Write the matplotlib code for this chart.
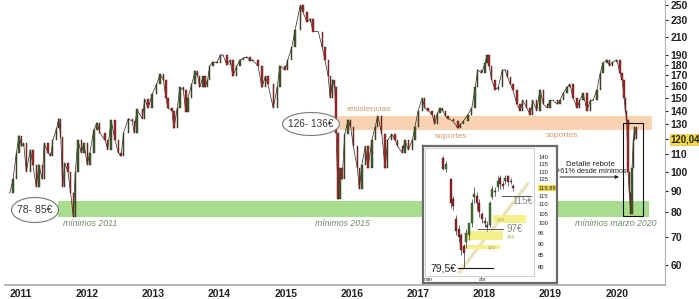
import numpy as np
import matplotlib
matplotlib.use('Agg')
import matplotlib.pyplot as plt
from matplotlib.patches import Ellipse, Rectangle
from matplotlib.ticker import NullLocator

plt.rcParams['font.family'] = ['Liberation Sans', 'DejaVu Sans']

# ---------------- main chart data (decimal year, close in EUR) ----------------
dates = [2010.83, 2010.88, 2010.93, 2010.97, 2011.01, 2011.04, 2011.08, 2011.14, 2011.18, 2011.23,
         2011.27, 2011.32, 2011.35, 2011.41, 2011.45, 2011.48, 2011.54, 2011.57, 2011.60, 2011.63,
         2011.66, 2011.71, 2011.75, 2011.79, 2011.82, 2011.86, 2011.91, 2011.95, 2012.00, 2012.04,
         2012.10, 2012.15, 2012.19, 2012.27, 2012.31, 2012.36, 2012.42, 2012.47, 2012.51, 2012.55,
         2012.62, 2012.68, 2012.71, 2012.75, 2012.83, 2012.87, 2012.92, 2012.98, 2013.05, 2013.10,
         2013.15, 2013.19, 2013.22, 2013.28, 2013.31, 2013.36, 2013.40, 2013.45, 2013.49, 2013.52,
         2013.58, 2013.63, 2013.67, 2013.70, 2013.75, 2013.78, 2013.82, 2013.85, 2013.90, 2013.96,
         2014.01, 2014.05, 2014.11, 2014.16, 2014.20, 2014.26, 2014.31, 2014.36, 2014.41, 2014.46,
         2014.50, 2014.58, 2014.64, 2014.69, 2014.73, 2014.81, 2014.87, 2014.91, 2014.99, 2015.03,
         2015.09, 2015.14, 2015.22, 2015.26, 2015.32, 2015.37, 2015.41, 2015.49, 2015.55, 2015.59,
         2015.64, 2015.67, 2015.71, 2015.74, 2015.76, 2015.79, 2015.82, 2015.85, 2015.89, 2015.94,
         2015.98, 2016.02, 2016.08, 2016.11, 2016.15, 2016.20, 2016.24, 2016.30, 2016.35, 2016.39,
         2016.45, 2016.50, 2016.54, 2016.60, 2016.65, 2016.69, 2016.76, 2016.80, 2016.85, 2016.91,
         2016.95, 2017.00, 2017.06, 2017.10, 2017.15, 2017.21, 2017.25, 2017.29, 2017.33, 2017.37,
         2017.41, 2017.45, 2017.53, 2017.60, 2017.64, 2017.68, 2017.75, 2017.81, 2017.86, 2017.90,
         2017.96, 2018.01, 2018.04, 2018.07, 2018.11, 2018.16, 2018.21, 2018.27, 2018.31, 2018.35,
         2018.39, 2018.43, 2018.49, 2018.54, 2018.58, 2018.64, 2018.69, 2018.73, 2018.79, 2018.84,
         2018.89, 2018.95, 2018.99, 2019.04, 2019.10, 2019.14, 2019.19, 2019.25, 2019.29, 2019.34,
         2019.40, 2019.44, 2019.49, 2019.55, 2019.60, 2019.64, 2019.70, 2019.75, 2019.79, 2019.85,
         2019.89, 2019.94, 2020.00, 2020.05, 2020.08, 2020.11, 2020.13, 2020.15, 2020.17, 2020.19,
         2020.21, 2020.23, 2020.25, 2020.27, 2020.30]
closes = [89, 96, 111, 122, 115, 117, 100, 113, 104, 92,
          104, 96, 117, 111, 109, 119, 127, 134, 121, 92,
          105, 100, 89, 78, 100, 119, 111, 117, 104, 111,
          126, 131, 124, 119, 113, 133, 119, 111, 109, 124,
          134, 132, 124, 141, 134, 149, 142, 153, 162, 171,
          166, 150, 142, 140, 127, 142, 159, 157, 139, 150,
          162, 174, 169, 159, 169, 159, 166, 179, 183, 182,
          190, 190, 180, 185, 169, 179, 185, 187, 188, 184,
          185, 179, 159, 169, 162, 142, 159, 179, 175, 185,
          198, 218, 250, 240, 228, 232, 216, 216, 198, 185,
          169, 150, 166, 159, 124, 86, 102, 96, 123, 133,
          128, 115, 102, 91, 104, 115, 102, 119, 128, 136,
          123, 102, 119, 123, 119, 115, 111, 119, 113, 119,
          128, 140, 150, 142, 140, 137, 130, 138, 142, 140,
          136, 134, 132, 127, 130, 132, 137, 142, 159, 175,
          172, 182, 190, 179, 166, 157, 159, 175, 175, 168,
          162, 157, 145, 140, 148, 142, 137, 148, 140, 157,
          145, 142, 148, 148, 145, 148, 154, 159, 162, 150,
          142, 148, 154, 140, 148, 148, 157, 172, 182, 185,
          179, 183, 185, 172, 166, 150, 140, 133, 100, 89,
          79.5, 102, 119, 128, 120.04]

year_ticks = [2011, 2012, 2013, 2014, 2015, 2016, 2017, 2018, 2019, 2020]
year_labels = [str(y) for y in year_ticks]
price_ticks = [60, 70, 80, 90, 100, 110, 120.04, 130, 140, 150, 160, 170, 180, 190, 210, 230, 250]
price_labels = ['60', '70', '80', '90', '100', '110', '120,04', '130', '140', '150', '160',
                '170', '180', '190', '210', '230', '250']
last_price_label = '120,04'

support_band = (78, 85)        # mínimos 2011 / 2015 / marzo 2020
resistance_band = (126, 136)   # resistencias / soportes

# ---------------- inset data (daily candles, March-April 2020) ----------------
inset_day   = [0, 1, 3, 4, 5, 6, 7, 8, 9, 10, 11, 12, 13, 14, 15, 16, 17, 18, 19, 20, 21, 22, 23, 24, 25, 26, 27]
inset_open  = [139, 132, 125, 113, 102, 97, 94, 89, 91, 94, 100, 114, 115, 111, 105, 101, 99, 99, 114, 118, 120, 126, 122, 124, 127, 123, 121]
inset_high  = [141, 137, 126, 115, 104, 99, 95, 90, 97, 100, 113, 120, 117, 113, 106, 103, 101, 112, 121, 120, 127, 128, 124, 128, 128, 126, 122]
inset_low   = [131, 130, 108, 107, 94, 91, 85, 79.5, 88, 92, 98, 111, 107, 103, 100, 98, 96, 98, 113, 115, 118, 119, 119, 122, 121, 122, 118]
inset_close = [132, 135, 111, 109, 96, 93, 87, 86, 95, 100, 111, 116, 111, 106, 102, 100, 98, 111, 119, 117, 124, 122, 121, 126, 123, 124, 119.88]
inset_ticks = [80, 85, 90, 95, 100, 105, 110, 115, 119.88, 125, 130, 135, 140]
inset_labels = ['80', '85', '90', '95', '100', '105', '110', '115', '119,88', '125', '130', '135', '140']
inset_month_pos = [-5.8, 15.4]
inset_month_labels = ['mar', 'abr']
inset_levels = [79.5, 97, 115]
inset_gaps = [(100, 104), (92, 96), (87.5, 89.5)]

W, H = 699, 299
fig = plt.figure(figsize=(W / 100, H / 100), dpi=100)
fig.patch.set_facecolor('white')

def fx(px):
    return px / W

def fy(py):
    return 1 - py / H

ax = fig.add_axes([fx(5), fy(285), fx(660), 285 / H])
ax.set_yscale('log')
ax.set_xlim(2010.758, 2020.728)
ax.set_ylim(53.7, 257)

# bands
ax.fill_between([2015.79, 2020.53], resistance_band[0], resistance_band[1],
                color='#f9d2b2', lw=0, zorder=1)
ax.fill_between([2011.56, 2020.49], support_band[0], support_band[1],
                color='#a9dc8c', lw=0, zorder=1)

# candles (open = previous close)
d = np.array(dates)
c = np.array(closes, dtype=float)
o = np.r_[c[0], c[:-1]]
up = c >= o
cols = np.where(up, '#3e6630', '#b8262a')
ax.plot(d, c, color='#3a2418', lw=0.5, zorder=2)
ax.bar(d, np.abs(c - o), bottom=np.minimum(o, c), width=0.02, color=cols,
       edgecolor='#2a1a12', linewidth=0.3, zorder=3)

# axes styling
for s in ['left', 'top']:
    ax.spines[s].set_visible(False)
ax.spines['bottom'].set_color('#a8a8a8')
ax.spines['bottom'].set_linewidth(1.2)
ax.spines['right'].set_color('#b0b0b0')
ax.spines['right'].set_linewidth(0.8)
ax.yaxis.tick_right()
ax.yaxis.set_minor_locator(NullLocator())
ax.set_yticks(price_ticks, price_labels)
ax.set_xticks(year_ticks, year_labels)
ax.tick_params(axis='y', length=2, pad=2, labelsize=7.5, colors='#222222')
ax.tick_params(axis='x', length=0, pad=3, labelsize=7.5, colors='#222222')
for lab in ax.get_yticklabels() + ax.get_xticklabels():
    lab.set_fontweight('bold')
for lab in ax.get_yticklabels():
    if lab.get_text() == last_price_label:
        lab.set_fontsize(6.9)
        lab.set_bbox(dict(facecolor='#f6dc46', edgecolor='#d8b820', pad=0.4, lw=0.4))

# ellipses with band values
e1 = Ellipse((fx(35), fy(210)), fx(47), 25 / H, transform=fig.transFigure,
             facecolor='white', edgecolor='#777777', lw=0.8, zorder=6, clip_on=False)
ax.add_patch(e1)
ax.text(fx(35), fy(210), '78- 85€', transform=fig.transFigure, ha='center', va='center',
        fontsize=7.5, color='#333333', zorder=7)
e2 = Ellipse((fx(311), fy(124)), fx(57), 23 / H, transform=fig.transFigure,
             facecolor='white', edgecolor='#777777', lw=0.8, zorder=6, clip_on=False)
ax.add_patch(e2)
ax.text(fx(311), fy(124), '126- 136€', transform=fig.transFigure, ha='center', va='center',
        fontsize=7.2, color='#333333', zorder=7)

# labels
green_txt = '#6d8a66'
orange_txt = '#d29b6c'
ax.text(2011.63, 75.1, 'mínimos 2011', fontsize=6.3, style='italic', color=green_txt, va='center')
ax.text(2015.44, 75.4, 'mínimos 2015', fontsize=6.3, style='italic', color=green_txt, va='center')
ax.text(2019.37, 75.4, 'mínimos marzo 2020', fontsize=6.3, style='italic', color=green_txt, va='center')
ax.text(2015.92, 141.2, 'resistencias', fontsize=6, color=orange_txt, va='center')
ax.text(2017.25, 121.7, 'soportes', fontsize=6, color=orange_txt, va='center')
ax.text(2018.92, 122.2, 'soportes', fontsize=6, color=orange_txt, va='center')
ax.text(2019.60, 104.3, 'Detalle rebote', fontsize=5.6, color='#222222', ha='center', va='center')
ax.text(2019.62, 100.2, '+61% desde mínimos', fontsize=5.3, color='#222222', ha='center', va='center')
ax.annotate('', xy=(2020.075, 97.2), xytext=(2019.10, 97.2),
            arrowprops=dict(arrowstyle='-|>', color='#222222', lw=0.7, mutation_scale=5))
ax.add_patch(Rectangle((2020.09, 78.5), 0.31, 131 - 78.5, fill=False,
                       edgecolor='#111111', lw=0.8, zorder=5))

# ---------------- inset ----------------
bg = fig.add_axes([fx(423), fy(283), fx(134), 137 / H])
bg.set_xticks([])
bg.set_yticks([])
bg.set_facecolor('white')
for s in bg.spines.values():
    s.set_color('#6a6a6a')
    s.set_linewidth(1.6)

iax = fig.add_axes([fx(425), fy(276), fx(109), 128 / H])
iax.set_yscale('log')
iax.set_xlim(-6.9, 35)
iax.set_ylim(76.4, 146.6)
for s in iax.spines.values():
    s.set_color('#c8c8c8')
    s.set_linewidth(0.6)

# trendline and gap zones
iax.plot([6.0, 33], [77.5, 123], color='#e9e2b8', lw=2.2, zorder=1, solid_capstyle='butt')
gap_x = [(19.2, 32.0), (8.8, 23.0), (8.5, 22.0)]
for (lo, hi), (x0, x1) in zip(inset_gaps, gap_x):
    iax.fill_between([x0, x1], lo, hi, color='#f6f08a', lw=0, zorder=1.5)
iax.text(20.8, 102, 'gap', fontsize=3.5, color='#b8b070', va='center', zorder=4)
iax.text(24.6, 93.5, 'gap', fontsize=3.5, color='#b8b070', va='center', zorder=4)
iax.text(17.2, 88.5, 'gap', fontsize=3.5, color='#b8b070', va='center', zorder=4)

idays = np.array(inset_day)
io = np.array(inset_open, dtype=float)
ic = np.array(inset_close, dtype=float)
icol = np.where(ic >= io, '#3f7a2c', '#a3161c')
iax.vlines(idays, inset_low, inset_high, color='#333333', lw=0.5, zorder=2)
iax.bar(idays, np.abs(ic - io), bottom=np.minimum(io, ic), width=0.8, color=icol,
        edgecolor='#333333', linewidth=0.3, zorder=3)

# level lines
iax.plot([5.8, 19.2], [inset_levels[0]] * 2, color='#111111', lw=0.8, zorder=4)
iax.text(5.0, inset_levels[0], '79,5€', fontsize=7.5, color='#222222', ha='right', va='center')
iax.plot([13.5, 23.0], [inset_levels[1]] * 2, color='#555555', lw=0.7, zorder=4)
iax.text(24.6, 97.3, '97€', fontsize=7, color='#8a8a8a', ha='left', va='center')
iax.plot([22.7, 33.5], [inset_levels[2]] * 2, color='#555555', lw=0.7, zorder=4)
iax.text(26.8, 111.8, '115€', fontsize=7, color='#8a8a8a', ha='left', va='center')

iax.yaxis.tick_right()
iax.yaxis.set_minor_locator(NullLocator())
iax.set_yticks(inset_ticks, inset_labels)
iax.set_xticks(inset_month_pos, inset_month_labels)
iax.tick_params(axis='y', length=0, pad=3, labelsize=4.2, colors='#222222')
iax.tick_params(axis='x', length=0, pad=0.5, labelsize=3.8, colors='#333333')
for lab in iax.get_yticklabels():
    if lab.get_text() == '119,88':
        lab.set_bbox(dict(facecolor='#f6dc46', edgecolor='none', pad=0.3))

fig.savefig('out.png', dpi=100)
